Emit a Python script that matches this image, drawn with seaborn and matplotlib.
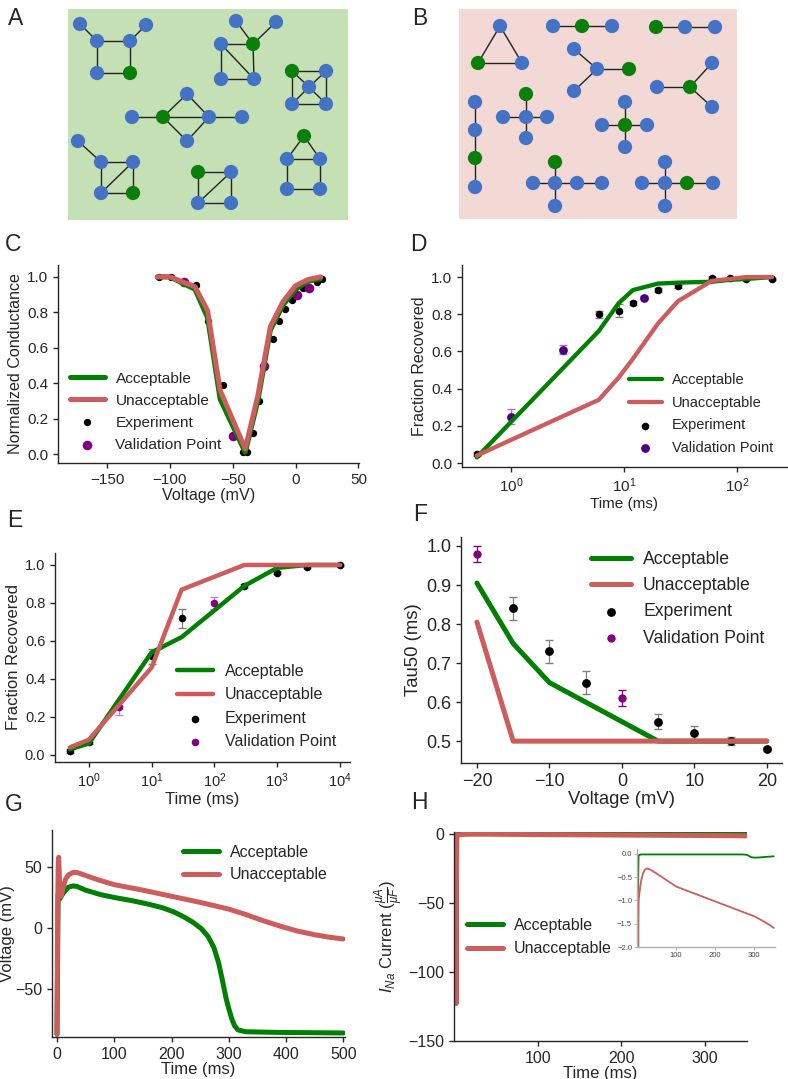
import matplotlib
matplotlib.use("Agg")
import matplotlib.pyplot as plt
from matplotlib.ticker import NullLocator
import seaborn as sns

sns.set_style("ticks")
plt.rcParams['font.family'] = ['Liberation Sans', 'DejaVu Sans']
plt.rcParams['mathtext.fontset'] = 'custom'
plt.rcParams['mathtext.rm'] = 'Liberation Sans'
plt.rcParams['mathtext.it'] = 'Liberation Sans:italic'
plt.rcParams['mathtext.bf'] = 'Liberation Sans:bold'
plt.rcParams['axes.linewidth'] = 1.0

# ---------------- data ----------------
# Panel A: networks (node positions in panel pixels)
A_node_x = [80, 97, 130, 146, 97, 130,
            236, 276, 221, 253, 221, 254,
            292, 326, 309, 292, 326,
            132, 163, 187, 209, 187, 242,
            78, 101, 133, 101, 133,
            198, 231, 198, 231,
            304, 287, 320, 287, 320]
A_node_y = [24, 41, 41, 25, 73, 73,
            21, 22, 44, 44, 79, 79,
            71, 71, 87, 104, 104,
            117, 117, 94, 117, 141, 117,
            141, 162, 162, 193, 193,
            172, 172, 203, 203,
            136, 159, 159, 189, 189]
A_node_kind = ['b', 'b', 'b', 'b', 'b', 'g',
               'b', 'b', 'b', 'g', 'b', 'b',
               'g', 'b', 'b', 'b', 'b',
               'b', 'g', 'b', 'b', 'b', 'b',
               'b', 'b', 'b', 'b', 'g',
               'g', 'b', 'b', 'b',
               'g', 'b', 'b', 'b', 'b']
A_edges = [(0, 1), (1, 2), (2, 3), (1, 4), (4, 5), (2, 5),
           (6, 9), (7, 9), (8, 9), (8, 10), (8, 11), (9, 11), (10, 11),
           (12, 13), (13, 16), (16, 15), (15, 12), (14, 12), (14, 13), (14, 15), (14, 16),
           (17, 18), (18, 19), (18, 20), (18, 21), (19, 20), (21, 20), (20, 22),
           (23, 24), (24, 25), (24, 26), (25, 27), (26, 27), (26, 25),
           (28, 29), (28, 30), (29, 31), (30, 31), (30, 29),
           (32, 33), (32, 34), (33, 34), (33, 35), (34, 36), (35, 36)]

# Panel B: networks
B_node_x = [500, 478, 522,
            553, 582, 612,
            656, 685, 715,
            574, 597, 629, 574,
            657, 690, 712, 712,
            475, 475, 475, 475,
            526, 503, 526, 547, 526,
            625, 602, 625, 647, 625,
            555, 533, 555, 577, 602, 555,
            665, 642, 665, 687, 713, 665]
B_node_y = [26, 63, 63,
            26, 26, 26,
            27, 27, 27,
            49, 69, 69, 91,
            87, 87, 63, 107,
            102, 130, 158, 187,
            94, 117, 117, 117, 138,
            102, 125, 125, 125, 147,
            162, 183, 183, 183, 183, 206,
            162, 183, 183, 183, 183, 206]
B_node_kind = ['b', 'g', 'b',
               'b', 'g', 'b',
               'g', 'b', 'b',
               'b', 'b', 'g', 'b',
               'b', 'g', 'b', 'b',
               'b', 'b', 'g', 'b',
               'g', 'b', 'b', 'b', 'b',
               'b', 'b', 'g', 'b', 'b',
               'g', 'b', 'b', 'b', 'b', 'b',
               'b', 'b', 'b', 'g', 'b', 'b']
B_edges = [(0, 1), (0, 2), (1, 2),
           (3, 4), (4, 5),
           (6, 7), (7, 8),
           (9, 10), (10, 11), (10, 12),
           (13, 14), (14, 15), (14, 16),
           (17, 18), (18, 19), (19, 20),
           (21, 23), (22, 23), (23, 24), (23, 25),
           (26, 28), (27, 28), (28, 29), (28, 30),
           (31, 33), (32, 33), (33, 34), (34, 35), (33, 36),
           (37, 39), (38, 39), (39, 40), (40, 41), (39, 42)]

# Panel C: conductance vs voltage
C_line_v = [-110, -100, -80, -70, -60, -40, -30, -20, -10, 0, 10, 20]
C_acc = [1.0, 1.0, 0.93, 0.77, 0.31, 0.01, 0.30, 0.70, 0.84, 0.93, 0.975, 0.99]
C_unacc = [1.0, 1.0, 0.945, 0.81, 0.36, 0.03, 0.33, 0.72, 0.86, 0.95, 0.985, 1.0]
C_exp_v = [-109, -99, -79, -70, -58, -42, -39, -34, -29, -18, -13, -8, -3, 6, 17, 21]
C_exp_g = [1.0, 1.0, 0.955, 0.75, 0.39, 0.01, 0.01, 0.12, 0.30, 0.65, 0.75, 0.82, 0.87, 0.94, 0.97, 0.99]
C_val_v = [-89, -50, -25, 1, 11]
C_val_g = [0.97, 0.10, 0.50, 0.90, 0.94]

# Panel D: recovery (time, log)
D_t = [0.5, 6, 9, 12, 20, 30, 60, 87, 120, 204]
D_acc = [0.03, 0.71, 0.86, 0.93, 0.965, 0.97, 0.975, 0.985, 0.99, 1.0]
D_unacc = [0.04, 0.34, 0.46, 0.56, 0.75, 0.87, 0.98, 0.99, 1.0, 1.0]
D_exp_t = [0.5, 6, 9, 12, 20, 30, 60, 87, 120, 204]
D_exp_y = [0.05, 0.80, 0.82, 0.86, 0.93, 0.95, 0.995, 0.995, 0.99, 0.99]
D_exp_err = [0.01, 0.02, 0.035, 0.01, 0.01, 0.01, 0.005, 0.005, 0.005, 0.005]
D_val_t = [1.0, 2.9, 15]
D_val_y = [0.25, 0.61, 0.89]
D_val_err = [0.04, 0.025, 0.01]

# Panel E: recovery (time, log)
E_t = [0.5, 1, 10, 30, 300, 1000, 3000, 10000]
E_acc = [0.03, 0.06, 0.54, 0.62, 0.89, 0.985, 1.0, 1.0]
E_unacc = [0.04, 0.08, 0.46, 0.87, 1.0, 1.0, 1.0, 1.0]
E_exp_t = [0.5, 1, 10, 30, 300, 1000, 3000, 10000]
E_exp_y = [0.02, 0.07, 0.52, 0.72, 0.89, 0.96, 0.99, 1.0]
E_exp_err = [0.01, 0.01, 0.04, 0.05, 0.01, 0.01, 0.005, 0.005]
E_val_t = [3, 100]
E_val_y = [0.25, 0.80]
E_val_err = [0.04, 0.03]

# Panel F: Tau50 vs voltage
F_v = [-20, -15, -10, -5, 0, 5, 10, 15, 20]
F_acc = [0.905, 0.75, 0.65, 0.60, 0.55, 0.50, 0.50, 0.50, 0.50]
F_unacc = [0.805, 0.50, 0.50, 0.50, 0.50, 0.50, 0.50, 0.50, 0.50]
F_exp_v = [-15, -10, -5, 5, 10, 15, 20]
F_exp_y = [0.84, 0.73, 0.65, 0.55, 0.52, 0.50, 0.48]
F_exp_err = [0.03, 0.03, 0.03, 0.02, 0.02, 0.01, 0.005]
F_val_v = [-20, 0]
F_val_y = [0.98, 0.61]
F_val_err = [0.02, 0.02]

# Panel G: action potentials
G_acc_t = [0, 2, 5, 10, 15, 20, 28, 35, 50, 75, 100, 130, 160, 185, 205, 222, 238,
           252, 264, 274, 282, 289, 295, 300, 305, 310, 316, 330, 380, 500]
G_acc_v = [-87, 28, 24, 28, 31, 33.5, 34.5, 34, 31, 27.5, 25, 22.5, 19.5, 16.5, 13, 9, 4.5,
           -0.5, -7, -16, -28, -43, -57, -66, -74, -80, -83.5, -85, -85.5, -86]
G_unacc_t = [0, 1, 2, 3, 4, 5, 7, 10, 15, 20, 28, 35, 50, 75, 100, 150, 200, 250,
             300, 330, 360, 390, 420, 450, 475, 500]
G_unacc_v = [-87, 0, 50, 58, 45, 30, 26, 32, 40, 43.5, 45.5, 45.5, 43, 39, 35.5, 31, 26, 21,
             15.5, 11, 6, 1.5, -2.5, -5.5, -7.5, -9]

# Panel H: sodium current
H_acc_t = [0, 1.5, 2.5, 3.2, 4, 10, 50, 100, 200, 270, 282, 292, 303, 320, 350]
H_acc_i = [0, -0.3, -110, -0.5, -0.03, -0.01, -0.01, -0.01, -0.01, -0.01, -0.02, -0.07, -0.08, -0.07, -0.05]
H_unacc_t = [0, 1.5, 2.5, 3.2, 4, 6, 10, 15, 20, 26, 35, 50, 75, 100, 150, 200, 250, 300,
             320, 340, 350]
H_unacc_i = [0.0, -0.5, -123, -1.6, -1.0, -0.85, -0.6, -0.42, -0.34, -0.31, -0.34, -0.42,
             -0.56, -0.70, -0.86, -1.02, -1.18, -1.34, -1.43, -1.53, -1.59]

# ---------------- style ----------------
GREEN = '#008000'
RED = '#CD5C5C'
PURPLE = '#800080'
INDIGO = '#4B0082'
NODE_BLUE = '#4472C4'
NODE_GREEN = '#0A7F0A'

W, H = 788, 1079
fig = plt.figure(figsize=(W / 100, H / 100), dpi=100)


def rect(l, t, r, b):
    return [l / W, 1 - b / H, (r - l) / W, (b - t) / H]


def fp(x, y):
    return (x / W, 1 - y / H)


def network(box, bg, xs, ys, kinds, edges):
    l, t, r, b = box
    ax = fig.add_axes(rect(l, t, r, b))
    ax.set_facecolor(bg)
    for (i, j) in edges:
        ax.plot([xs[i], xs[j]], [ys[i], ys[j]], color='#222222', lw=1.0, zorder=1)
    sns.scatterplot(x=xs, y=ys, hue=kinds, palette={'b': NODE_BLUE, 'g': NODE_GREEN},
                    s=105, linewidth=0, legend=False, ax=ax, zorder=2)
    ax.set_xlim(l, r)
    ax.set_ylim(b, t)
    ax.set_xticks([])
    ax.set_yticks([])
    for sp in ax.spines.values():
        sp.set_visible(False)
    return ax


def style(ax, fs):
    sns.despine(ax=ax)
    ax.tick_params(labelsize=fs, length=3.5, width=1.0)


def legend(ax, handles, labels, x, y, fs, ls=0.52):
    ax.legend(handles, labels, loc='upper left', bbox_to_anchor=fp(x, y),
              bbox_transform=fig.transFigure, frameon=False, fontsize=fs,
              handlelength=2.25, handletextpad=0.7, labelspacing=ls,
              borderpad=0, borderaxespad=0)


def curves_points(ax, lx1, ly1, lx2, ly2, ex, ey, eerr, vx, vy, verr, lw,
                  s_exp, s_val, vcol, verrcol):
    if eerr is not None:
        ax.errorbar(ex, ey, yerr=eerr, fmt='none', ecolor='#7f7f7f', elinewidth=0.9,
                    capsize=3, zorder=1)
        ax.errorbar(vx, vy, yerr=verr, fmt='none', ecolor=verrcol, elinewidth=0.9,
                    capsize=3, zorder=1)
    sns.scatterplot(x=ex, y=ey, color='black', s=s_exp, linewidth=0, ax=ax, zorder=2)
    h_exp = ax.collections[-1]
    sns.scatterplot(x=vx, y=vy, color=vcol, s=s_val, linewidth=0, ax=ax, zorder=2)
    h_val = ax.collections[-1]
    sns.lineplot(x=lx1, y=ly1, color=GREEN, lw=lw, sort=False, estimator=None, ax=ax, zorder=3)
    h_acc = ax.lines[-1]
    sns.lineplot(x=lx2, y=ly2, color=RED, lw=lw, sort=False, estimator=None, ax=ax, zorder=4)
    h_un = ax.lines[-1]
    return [h_acc, h_un, h_exp, h_val], ['Acceptable', 'Unacceptable', 'Experiment', 'Validation Point']


# ---------------- A & B ----------------
network((68, 9, 348, 220), '#C5E0B4', A_node_x, A_node_y, A_node_kind, A_edges)
network((459, 9, 737, 219), '#F2D9D5', B_node_x, B_node_y, B_node_kind, B_edges)

# ---------------- C ----------------
axC = fig.add_axes(rect(58, 265, 359, 463))
hC, lC = curves_points(axC, C_line_v, C_acc, C_line_v, C_unacc, C_exp_v, C_exp_g, None,
                       C_val_v, C_val_g, None, 3.6, 28, 48, PURPLE, PURPLE)
axC.set_xlim(-189, 50.5)
axC.set_ylim(-0.05, 1.067)
axC.set_xticks([-150, -100, -50, 0, 50])
axC.set_yticks([0.0, 0.2, 0.4, 0.6, 0.8, 1.0])
axC.set_xlabel('Voltage (mV)', fontsize=11.6, labelpad=1)
axC.set_ylabel('Normalized Conductance', fontsize=11.6, labelpad=3)
style(axC, 11)
legend(axC, hC, lC, 70, 371.5, 11.1)

# ---------------- D ----------------
axD = fig.add_axes(rect(462, 265, 787, 467))
hD, lD = curves_points(axD, D_t, D_acc, D_t, D_unacc, D_exp_t, D_exp_y, D_exp_err,
                       D_val_t, D_val_y, D_val_err, 3.1, 30, 40, INDIGO, '#B070C0')
axD.set_xscale('log')
axD.set_xlim(0.37, 277)
axD.set_ylim(-0.0215, 1.065)
axD.set_yticks([0.0, 0.2, 0.4, 0.6, 0.8, 1.0])
axD.xaxis.set_minor_locator(NullLocator())
axD.set_xlabel('Time (ms)', fontsize=11, labelpad=1)
axD.set_ylabel('Fraction Recovered', fontsize=11.5, labelpad=3)
style(axD, 11)
legend(axD, hD, lD, 629, 373, 10.5, ls=0.6)

# ---------------- E ----------------
axE = fig.add_axes(rect(55, 553, 350, 762))
hE, lE = curves_points(axE, E_t, E_acc, E_t, E_unacc, E_exp_t, E_exp_y, E_exp_err,
                       E_val_t, E_val_y, E_val_err, 3.2, 30, 30, PURPLE, '#C080D0')
axE.set_xscale('log')
axE.set_xlim(0.29, 14400)
axE.set_ylim(-0.037, 1.063)
axE.set_xticks([1, 10, 100, 1000, 10000])
axE.set_yticks([0.0, 0.2, 0.4, 0.6, 0.8, 1.0])
axE.xaxis.set_minor_locator(NullLocator())
axE.set_xlabel('Time (ms)', fontsize=12, labelpad=1)
axE.set_ylabel('Fraction Recovered', fontsize=12, labelpad=3)
style(axE, 10.5)
legend(axE, hE, lE, 177, 664, 11.6)

# ---------------- F ----------------
axF = fig.add_axes(rect(461, 537, 782, 763))
hF, lF = curves_points(axF, F_v, F_acc, F_v, F_unacc, F_exp_v, F_exp_y, F_exp_err,
                       F_val_v, F_val_y, F_val_err, 3.6, 40, 36, PURPLE, PURPLE)
axF.set_xlim(-22.2, 22.1)
axF.set_ylim(0.444, 1.023)
axF.set_xticks([-20, -10, 0, 10, 20])
axF.set_yticks([0.5, 0.6, 0.7, 0.8, 0.9, 1.0])
axF.set_xlabel('Voltage (mV)', fontsize=13.3, labelpad=1)
axF.set_ylabel('Tau50 (ms)', fontsize=13.3, labelpad=3)
style(axF, 13)
legend(axF, hF, lF, 591, 551, 12.7)

# ---------------- G ----------------
axG = fig.add_axes(rect(52, 830, 345, 1037))
sns.lineplot(x=G_acc_t, y=G_acc_v, color=GREEN, lw=3.6, sort=False, estimator=None, ax=axG)
hG1 = axG.lines[-1]
sns.lineplot(x=G_unacc_t, y=G_unacc_v, color=RED, lw=3.6, sort=False, estimator=None, ax=axG)
hG2 = axG.lines[-1]
axG.set_xlim(-8.7, 503)
axG.set_ylim(-89.3, 80.3)
axG.set_xticks([0, 100, 200, 300, 400, 500])
axG.set_yticks([-50, 0, 50])
axG.set_xlabel('Time (ms)', fontsize=12, labelpad=0)
axG.set_ylabel('Voltage (mV)', fontsize=12, labelpad=0)
style(axG, 11.5)
legend(axG, [hG1, hG2], ['Acceptable', 'Unacceptable'], 183, 845, 11.5, ls=0.45)

# ---------------- H ----------------
axH = fig.add_axes(rect(454, 832, 747, 1041))
sns.lineplot(x=H_acc_t, y=H_acc_i, color=GREEN, lw=3.6, sort=False, estimator=None, ax=axH)
hH1 = axH.lines[-1]
sns.lineplot(x=H_unacc_t, y=H_unacc_i, color=RED, lw=3.6, sort=False, estimator=None, ax=axH)
hH2 = axH.lines[-1]
axH.set_xlim(0, 350)
axH.set_ylim(-150, 1.2)
axH.set_xticks([100, 200, 300])
axH.set_yticks([-150, -100, -50, 0])
axH.set_xlabel('Time (ms)', fontsize=12, labelpad=0)
axH.set_ylabel(r'$I_{Na}$ Current ($\frac{\mu A}{\mu F}$)', fontsize=12, labelpad=2)
style(axH, 11.5)
legend(axH, [hH1, hH2], ['Acceptable', 'Unacceptable'], 467, 918, 11.5)

axI = fig.add_axes(rect(637, 849, 775, 947))
sns.lineplot(x=H_acc_t, y=H_acc_i, color=GREEN, lw=1.3, sort=False, estimator=None, ax=axI)
sns.lineplot(x=H_unacc_t, y=H_unacc_i, color=RED, lw=1.3, sort=False, estimator=None, ax=axI)
axI.set_xlim(0, 353)
axI.set_ylim(-2.0, 0.107)
axI.set_xticks([100, 200, 300])
axI.set_yticks([-2.0, -1.5, -1.0, -0.5, 0.0])
sns.despine(ax=axI)
axI.patch.set_alpha(0)
for sp in ('left', 'bottom'):
    axI.spines[sp].set_color('#b0b0b0')
axI.tick_params(labelsize=5.5, length=2, width=0.6, colors='#b0b0b0', labelcolor='#444444', pad=1.5)

# ---------------- panel letters ----------------
for letter, x, y in [('A', 8, 7), ('B', 412, 7), ('C', 5, 233), ('D', 410, 233),
                     ('E', 7, 509), ('F', 413, 503), ('G', 5, 793), ('H', 411, 791)]:
    fig.text(x / W, 1 - y / H, letter, fontsize=16.5, va='top', ha='left')

fig.savefig('out.png', dpi=100)
